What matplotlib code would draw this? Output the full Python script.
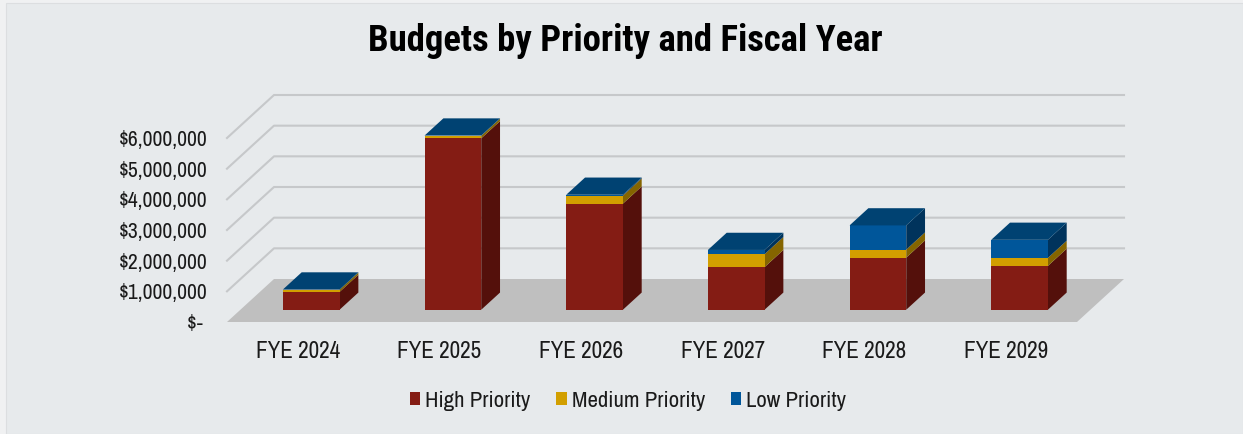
import matplotlib
matplotlib.use("Agg")
import matplotlib.pyplot as plt
from matplotlib.patches import Patch, Polygon, Rectangle

plt.rcParams['font.family'] = ['Archivo Narrow', 'Liberation Sans', 'DejaVu Sans']

years = ['FYE 2024', 'FYE 2025', 'FYE 2026', 'FYE 2027', 'FYE 2028', 'FYE 2029']
high = [580000, 5590000, 3460000, 1390000, 1700000, 1430000]
medium = [70000, 80000, 260000, 420000, 260000, 260000]
low = [10000, 10000, 30000, 140000, 790000, 590000]
tick_values = [0, 1000000, 2000000, 3000000, 4000000, 5000000, 6000000]
tick_labels = ['$- ', '$1,000,000', '$2,000,000', '$3,000,000', '$4,000,000', '$5,000,000', '$6,000,000']

BG = '#E7EAEC'
EDGE = '#F0F1F2'
FLOOR = '#BFBFBF'
GRID = '#C6C8CA'
# front, side, top colours for each priority
COLORS = {
    'High Priority': ('#841C14', '#54100B', '#6A160F'),
    'Medium Priority': ('#D29F00', '#856500', '#A88000'),
    'Low Priority': ('#00569A', '#00335C', '#004272'),
}

W, H = 1243, 434
fig = plt.figure(figsize=(W / 100, H / 100), dpi=100, facecolor=EDGE)
# chart panel, leaving a thin lighter strip on the top and left
fig.add_artist(Rectangle((6 / W, 0), 1 - 6 / W, 1 - 3 / H, transform=fig.transFigure,
                         facecolor=BG, edgecolor='#DCDEE0', lw=0.8, zorder=-1))
ax = fig.add_axes([227 / W, 1 - 322 / H, 850 / W, 184 / H])
ax.set_xlim(-0.5, 5.5)
ax.set_ylim(0, 6000000)
ax.patch.set_visible(False)
for s in ax.spines.values():
    s.set_visible(False)

# depth of the fake 3D box, in data units
depth_x = 47 / (850 / 6)
depth_y = 43 / (184 / 6e6)
bar_width = 0.4
d_front = 0.285
d_back = 0.685

# floor
ax.add_patch(Polygon([(-0.5, 0), (5.5, 0), (5.5 + depth_x, depth_y), (-0.5 + depth_x, depth_y)],
                     facecolor=FLOOR, edgecolor='none', clip_on=False, zorder=1))

# gridlines on the left wall and the back wall
for v in tick_values[1:]:
    ax.plot([-0.5, -0.5 + depth_x, 5.5 + depth_x], [v, v + depth_y, v + depth_y],
            color=GRID, lw=1.5, clip_on=False, zorder=2)


def draw_box(i, bottom, height, name, z):
    front, side, top = COLORS[name]
    x0 = i - bar_width / 2 + d_front * depth_x
    x1 = x0 + bar_width
    y0 = bottom + d_front * depth_y
    y1 = y0 + height
    dx = (d_back - d_front) * depth_x
    dy = (d_back - d_front) * depth_y
    ax.add_patch(Polygon([(x1, y0), (x1 + dx, y0 + dy), (x1 + dx, y1 + dy), (x1, y1)],
                         facecolor=side, edgecolor='none', clip_on=False, zorder=z))
    ax.bar(x0, height, width=bar_width, bottom=y0, align='edge', color=front,
           clip_on=False, zorder=z)
    if name == 'Low Priority':
        ax.add_patch(Polygon([(x0, y1), (x1, y1), (x1 + dx, y1 + dy), (x0 + dx, y1 + dy)],
                             facecolor=top, edgecolor='none', clip_on=False, zorder=z))


for i in range(len(years)):
    base = 0
    for name, vals in zip(COLORS, [high, medium, low]):
        draw_box(i, base, vals[i], name, 3 + i * 0.1)
        base += vals[i]

ax.set_xticks(range(len(years)))
ax.set_xticklabels(years, fontsize=16.7, color='#1A1A1A')
ax.set_yticks(tick_values)
ax.set_yticklabels(tick_labels, fontsize=15.5, color='#1A1A1A')
ax.tick_params(axis='both', length=0)
ax.tick_params(axis='x', pad=13.5)
ax.tick_params(axis='y', pad=14)

fig.text(625 / W, 1 - 41 / H, 'Budgets by Priority and Fiscal Year', ha='center', va='center',
         fontsize=26.5, fontweight='bold', color='black', family=['Roboto Condensed', 'Liberation Sans'])

handles = [Patch(facecolor=COLORS[n][0], label=n) for n in COLORS]
fig.legend(handles=handles, ncols=3, loc='center', bbox_to_anchor=(628 / W, 1 - 401 / H),
           frameon=False, fontsize=16.4, handlelength=0.45, handleheight=0.5,
           handletextpad=0.22, columnspacing=1.13, labelcolor='#1A1A1A')

fig.savefig('out.png', dpi=100, facecolor=EDGE)
